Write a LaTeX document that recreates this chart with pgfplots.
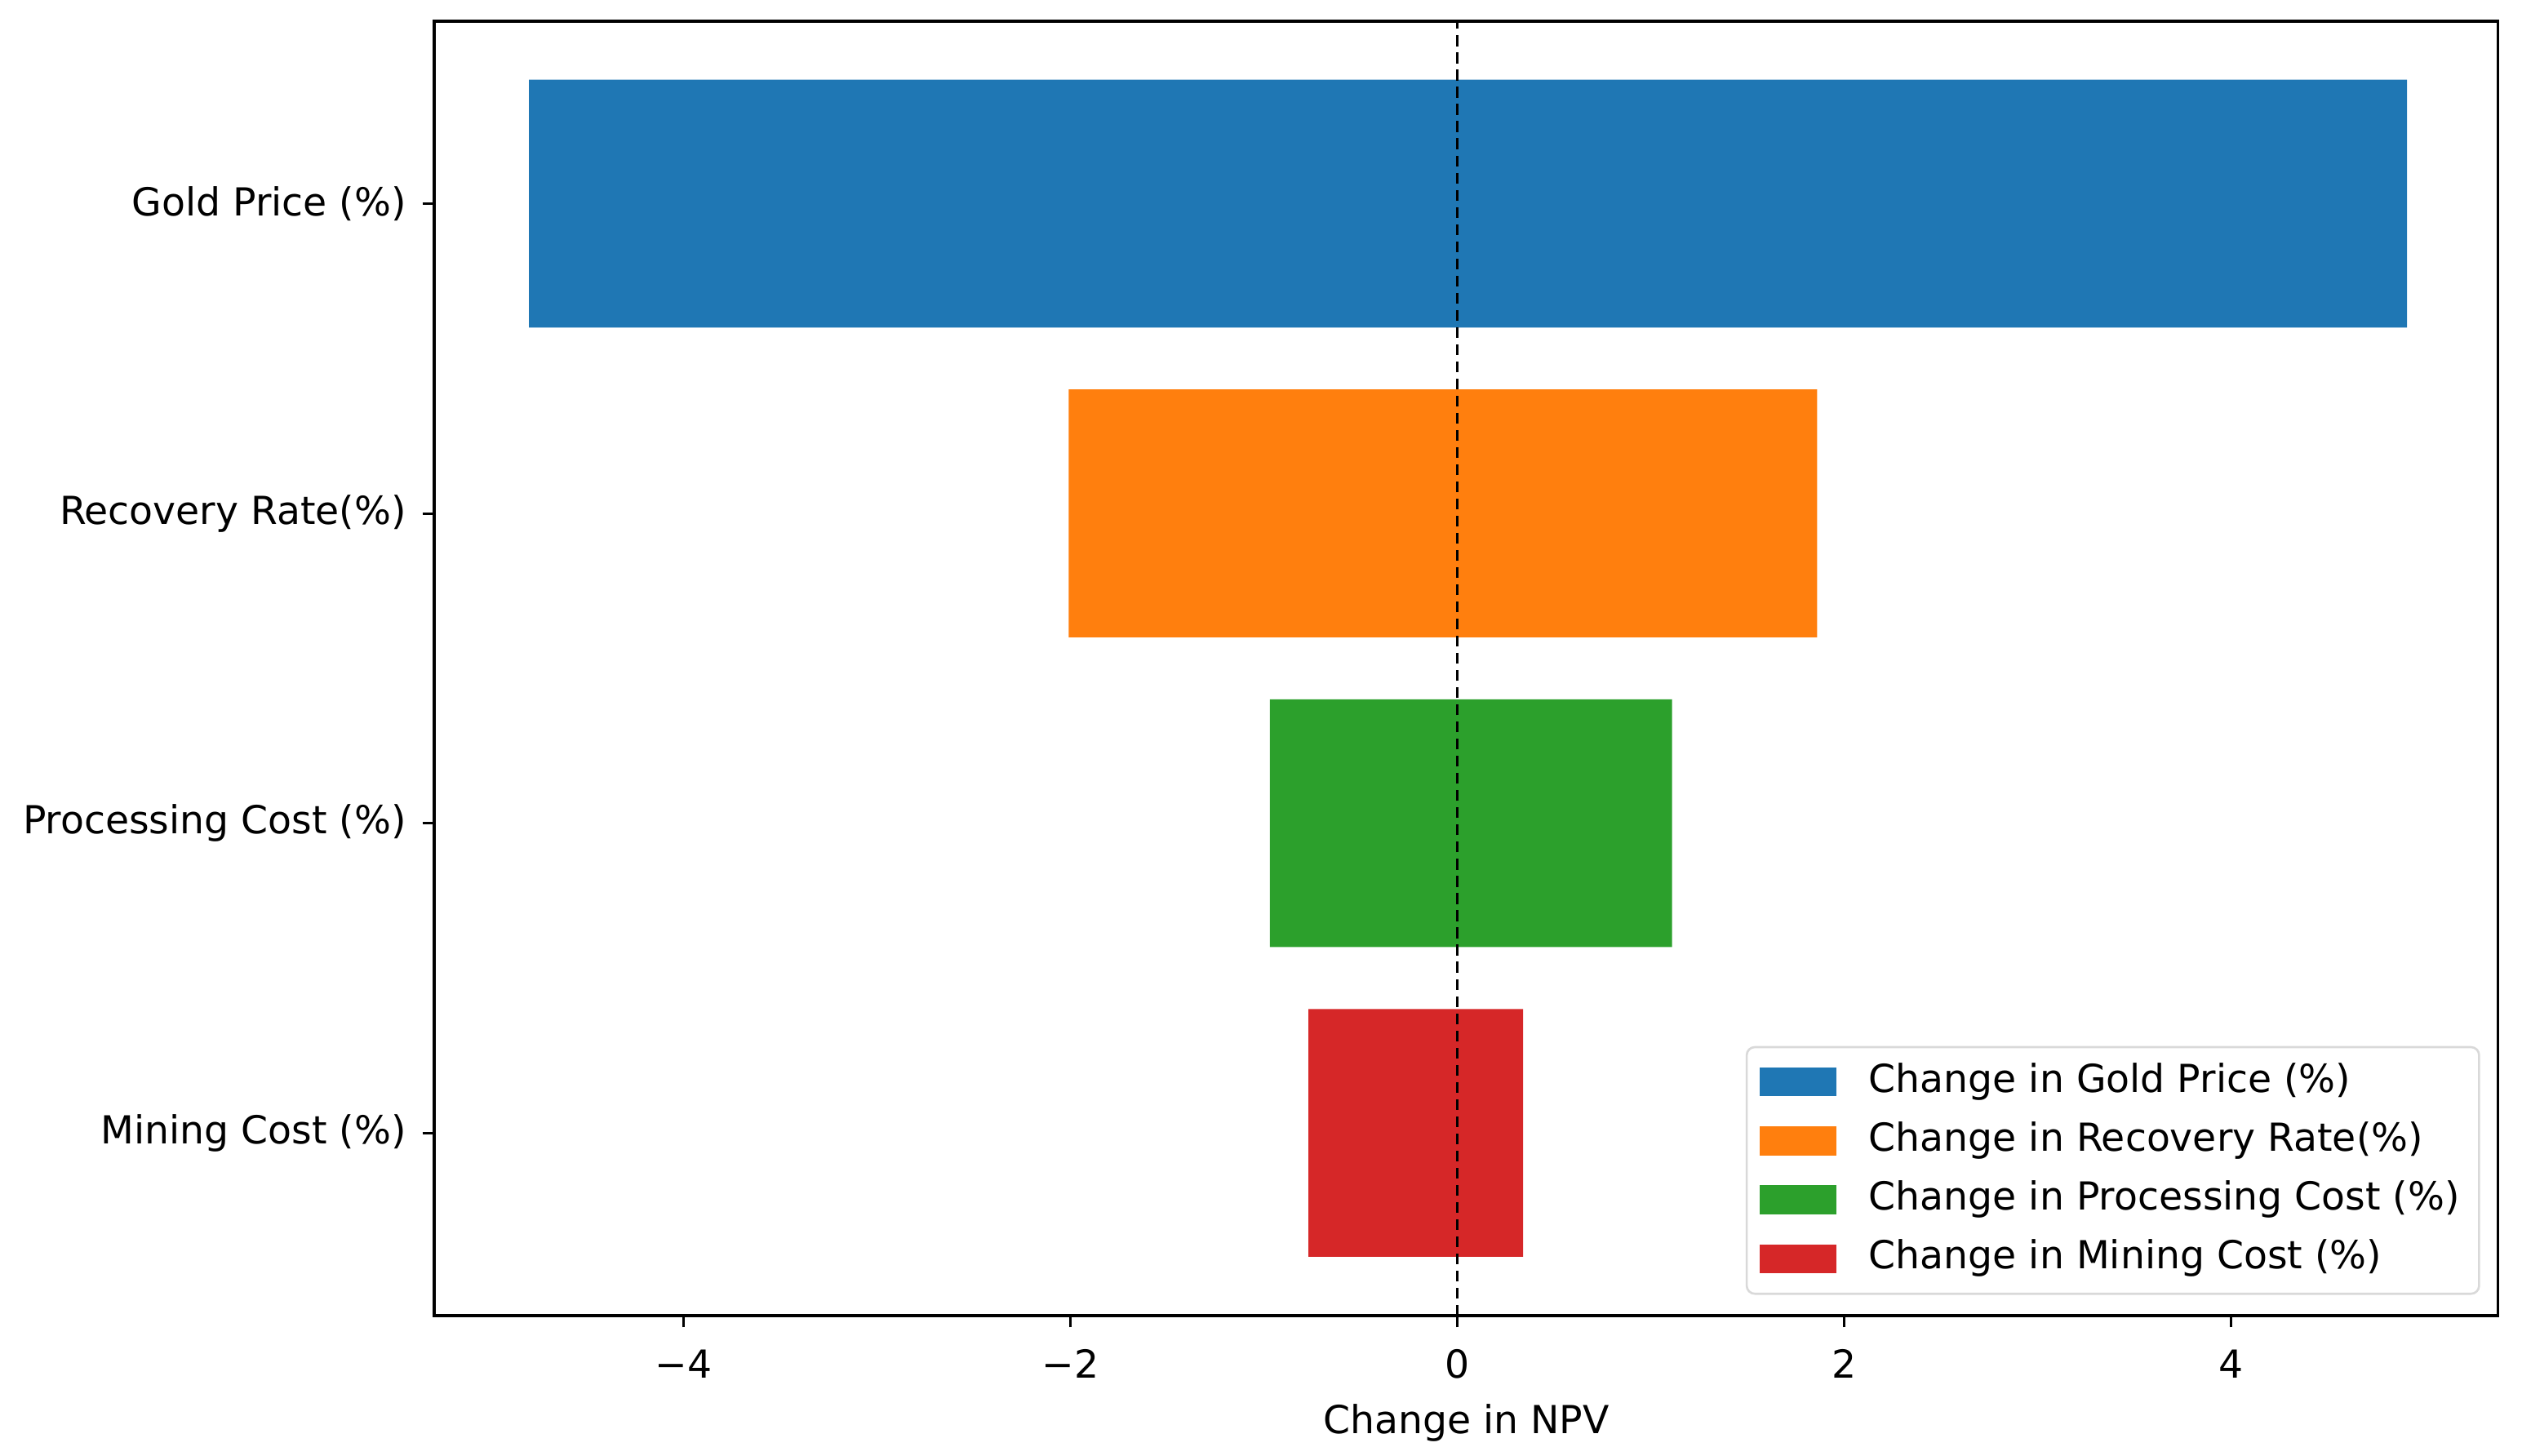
\documentclass[border=0pt]{standalone}
\usepackage{fontspec}
\setmainfont{DejaVu Sans}
\usepackage{pgfplots}
\pgfplotsset{compat=1.18}
\definecolor{tabblue}{HTML}{1F77B4}
\definecolor{taborange}{HTML}{FF7F0E}
\definecolor{tabgreen}{HTML}{2CA02C}
\definecolor{tabred}{HTML}{D62728}
\begin{document}
\begin{tikzpicture}
\useasboundingbox (-81pt,-26.1pt) rectangle (389.4pt,245.4pt);
\begin{axis}[
  scale only axis,
  width=384.9pt, height=241.5pt,
  xmin=-5.29, xmax=5.38,
  ymin=-0.59, ymax=3.59,
  xbar, bar shift=0pt, bar width=0.8,
  xtick={-4,-2,0,2,4},
  xticklabels={−4,−2,0,2,4},
  ytick={0,1,2,3},
  yticklabels={Mining Cost (\%),Processing Cost (\%),Recovery Rate(\%),Gold Price (\%)},
  tick align=outside,
  major tick length=2.2pt,
  tick style={black, line width=0.45pt},
  xtick pos=bottom, ytick pos=left,
  axis line style={line width=0.6pt},
  tick label style={font=\fontsize{7.2}{8.6}\selectfont},
  xticklabel style={yshift=-0.6pt},
  yticklabel style={xshift=0.5pt},
  xlabel={Change in NPV},
  xlabel style={font=\fontsize{7.2}{8.6}\selectfont, yshift=2.2pt},
  legend cell align=left,
  legend image code/.code={\fill[#1, sharp corners] (0pt,-2.7pt) rectangle (14.4pt,2.7pt);},
  legend style={
    at={(rel axis cs:0.9914,0.0161)}, anchor=south east,
    draw=black!15, rounded corners=1.5pt, fill=white,
    font=\fontsize{7.2}{8.6}\selectfont,
    inner xsep=2.4pt, inner ysep=1.0pt, row sep=0pt, column sep=4.8pt,
    nodes={text height=5.4pt, text depth=1.6pt, inner ysep=2pt, inner xsep=1.2pt},
  },
]
\addplot[draw=none, fill=tabblue] coordinates {(-4.80,3) (4.91,3)};
\addlegendentry{Change in Gold Price (\%)}
\addplot[draw=none, fill=taborange] coordinates {(-2.01,2) (1.86,2)};
\addlegendentry{Change in Recovery Rate(\%)}
\addplot[draw=none, fill=tabgreen] coordinates {(-0.97,1) (1.11,1)};
\addlegendentry{Change in Processing Cost (\%)}
\addplot[draw=none, fill=tabred] coordinates {(-0.77,0) (0.34,0)};
\addlegendentry{Change in Mining Cost (\%)}
\addplot[black, line width=0.45pt, dash pattern=on 2pt off 1.2pt, forget plot, xbar=false, sharp plot] coordinates {(0,-0.59) (0,3.59)};
\end{axis}
\end{tikzpicture}
\end{document}
